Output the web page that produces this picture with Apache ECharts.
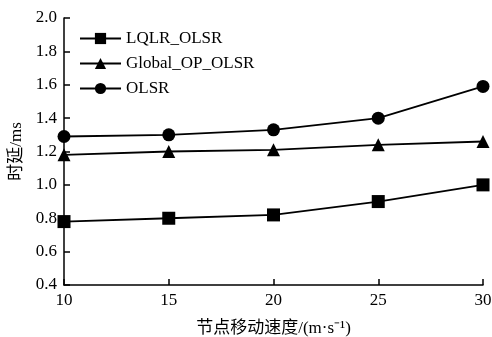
<!DOCTYPE html>
<html><head><meta charset="utf-8">
<script src="https://cdn.jsdelivr.net/npm/echarts@6/dist/echarts.min.js"></script>
<style>html,body{margin:0;padding:0;background:#fff}#c{width:492px;height:337px}</style>
</head><body><div id="c"></div>
<script>
const categories = [10, 15, 20, 25, 30];
const seriesNames = ['LQLR_OLSR', 'Global_OP_OLSR', 'OLSR'];
const lqlr = [0.78, 0.80, 0.82, 0.90, 1.00];
const globalOp = [1.18, 1.20, 1.21, 1.24, 1.26];
const olsr = [1.29, 1.30, 1.33, 1.40, 1.59];
const yTicks = ['0.4','0.6','0.8','1.0','1.2','1.4','1.6','1.8','2.0'];

const font = '"Liberation Serif", "Noto Sans CJK SC", serif';
const chart = echarts.init(document.getElementById('c'));
function mk(name, data, symbol, size) {
  return {
    name, type: 'line', data: categories.map((x, i) => [x, data[i]]),
    symbol, symbolSize: size, showSymbol: true,
    lineStyle: { color: '#000', width: 1.8 },
    itemStyle: { color: '#000' }, z: 3
  };
}
chart.setOption({
  animation: false,
  textStyle: { fontFamily: font, color: '#000' },
  grid: { left: 64, right: 9, top: 18, bottom: 52, containLabel: false, outerBoundsMode: 'none' },
  legend: {
    left: 74, top: 25, orient: 'vertical', itemGap: 8,
    itemWidth: 41, itemHeight: 14,
    textStyle: { fontFamily: font, fontSize: 17, color: '#000' },
    data: seriesNames
  },
  xAxis: {
    type: 'value', min: 10, max: 30, interval: 5,
    name: '节点移动速度/(m·s⁻¹)', nameLocation: 'middle', nameGap: 35,
    nameTextStyle: { fontFamily: font, fontSize: 17, color: '#000' },
    axisLine: { lineStyle: { color: '#000', width: 1.5 } },
    axisTick: { inside: true, length: 6, lineStyle: { color: '#000', width: 1.5 } },
    axisLabel: { fontFamily: font, fontSize: 17, color: '#000', margin: 7 },
    splitLine: { show: false }
  },
  yAxis: {
    type: 'value', min: 0.4, max: 2.0, interval: 0.2,
    name: '时延/ms', nameLocation: 'middle', nameGap: 37,
    nameTextStyle: { fontFamily: font, fontSize: 17, color: '#000' },
    axisLine: { show: true, lineStyle: { color: '#000', width: 1.5 } },
    axisTick: { show: true, inside: true, length: 6, lineStyle: { color: '#000', width: 1.5 } },
    axisLabel: { fontFamily: font, fontSize: 17, color: '#000', margin: 7,
      formatter: v => yTicks.find(t => Math.abs(parseFloat(t) - v) < 1e-6) || '' },
    splitLine: { show: false }
  },
  series: [
    mk(seriesNames[0], lqlr, 'rect', 13),
    mk(seriesNames[1], globalOp, 'triangle', 13),
    mk(seriesNames[2], olsr, 'circle', 13)
  ]
});
</script></body></html>
